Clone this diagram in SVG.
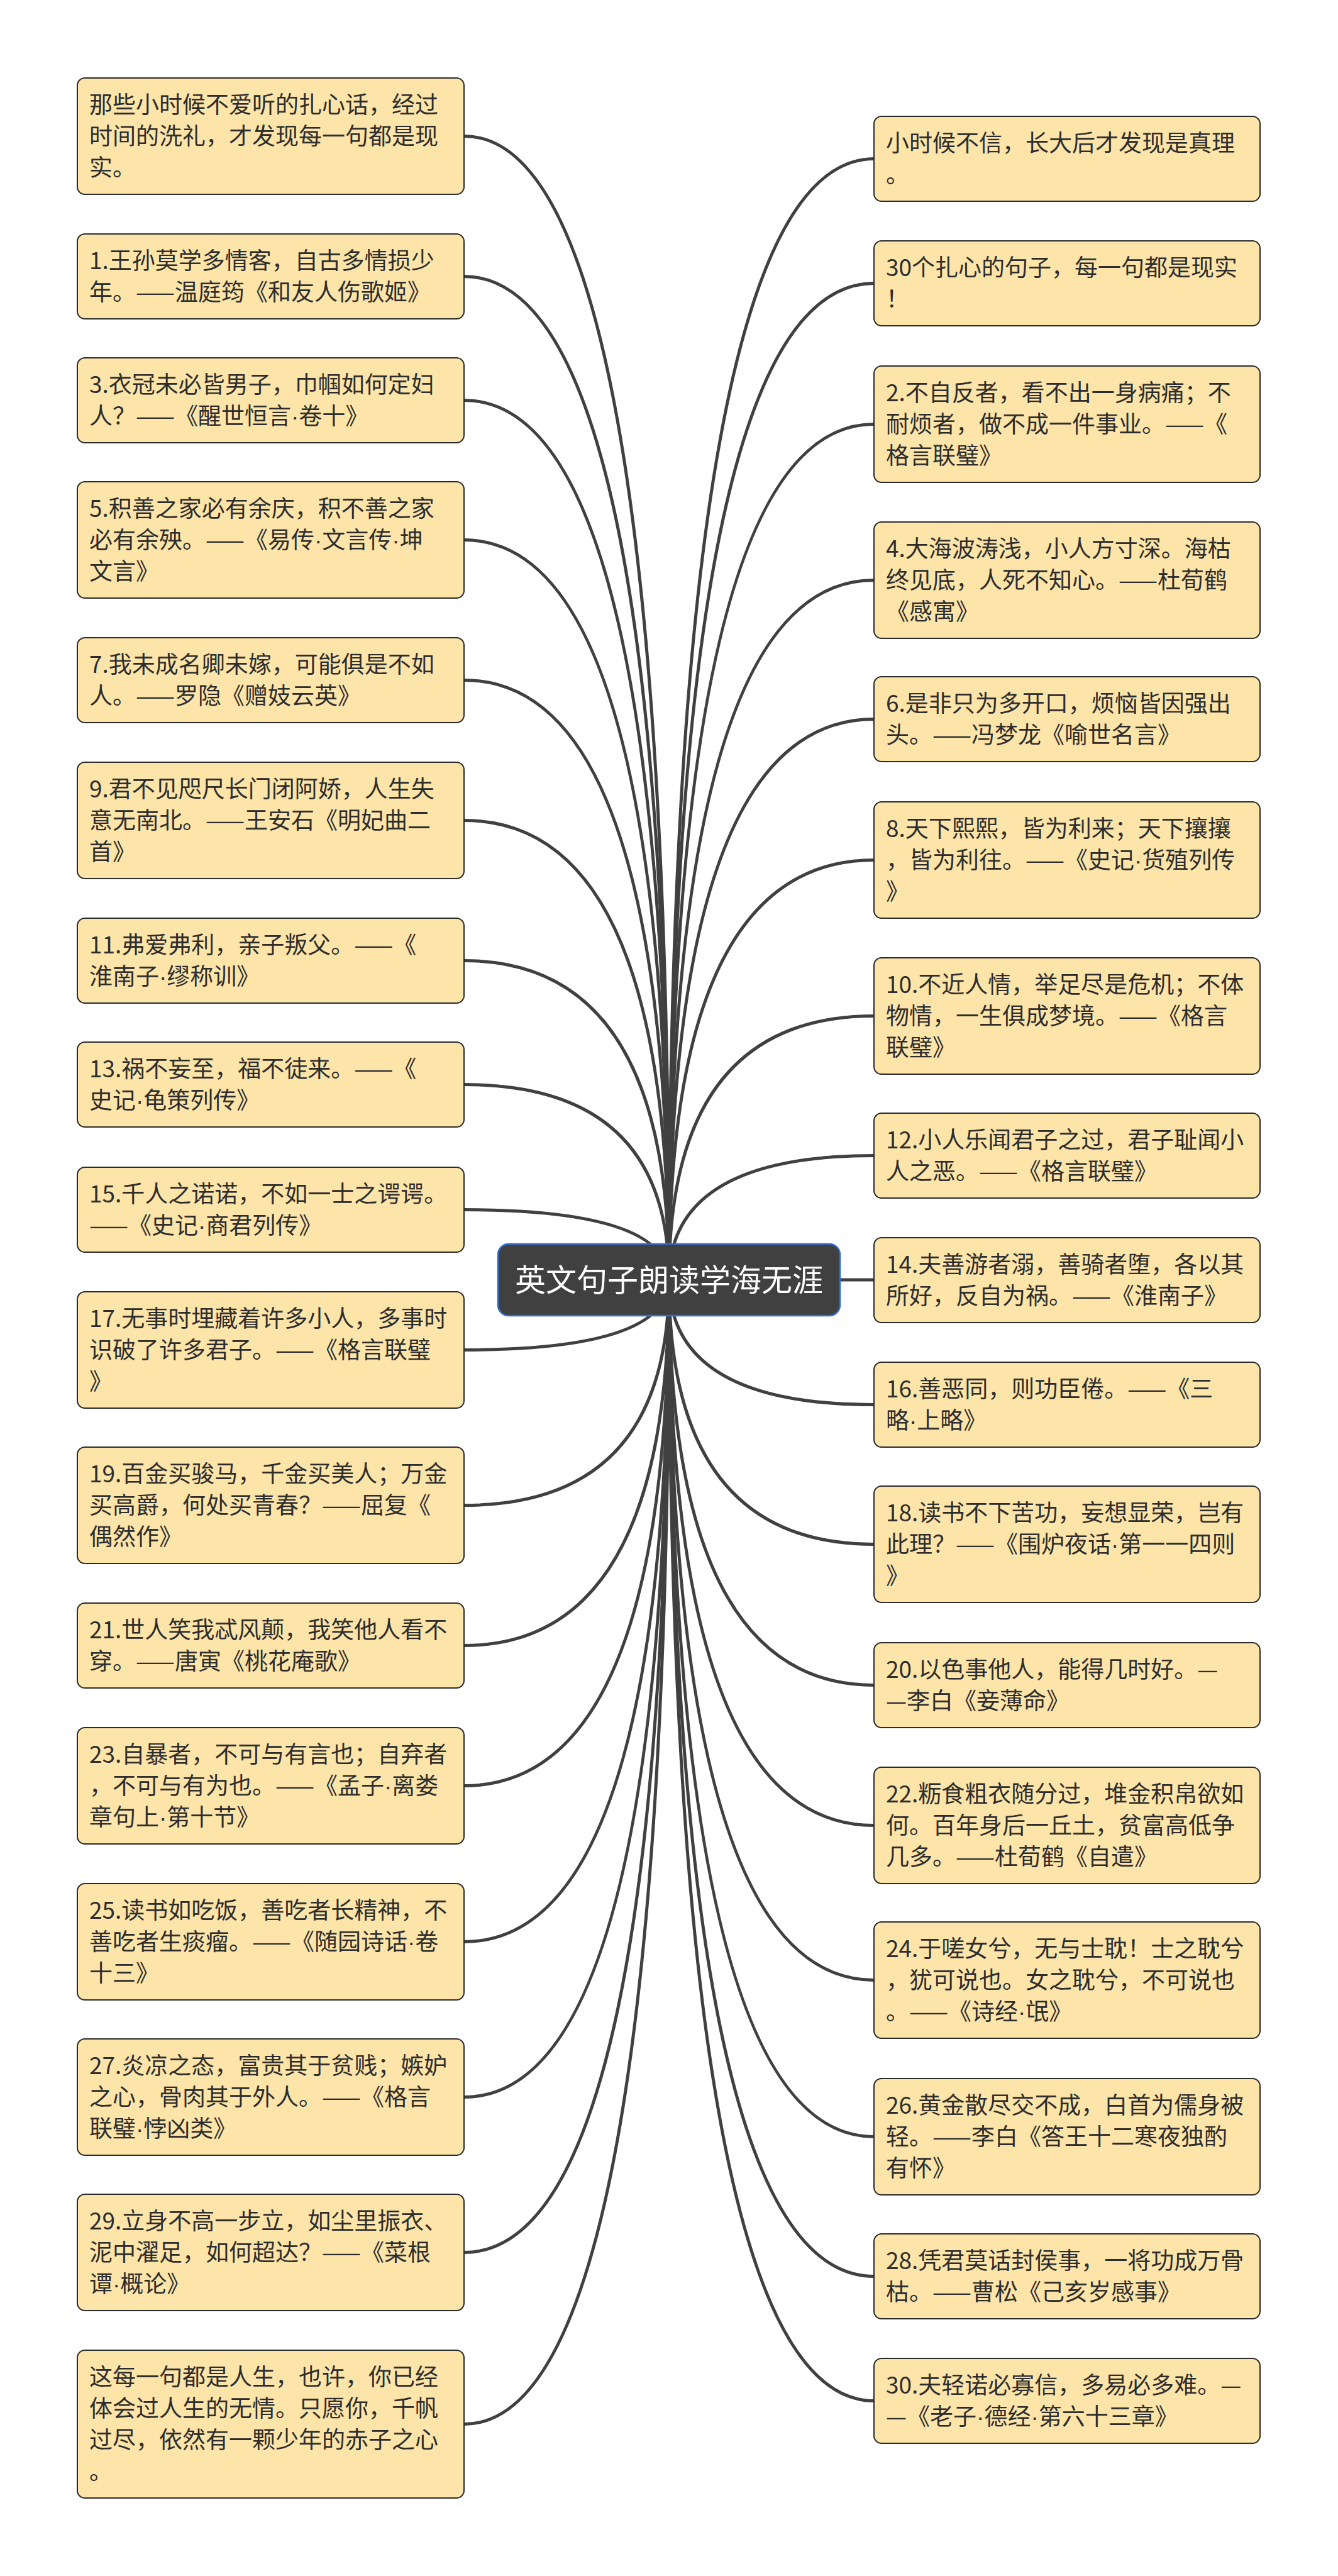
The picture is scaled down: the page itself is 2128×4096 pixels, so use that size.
<svg xmlns="http://www.w3.org/2000/svg" width="2128" height="4096" viewBox="0 0 2128 4096">
<style>
.box{fill:#FDE4A9;stroke:#2b2b2b;stroke-width:2}
.t{font-family:"Noto Sans CJK SC","Noto Sans",sans-serif;font-size:37px;fill:#2d2d2d}
.d{font-family:"Liberation Sans",sans-serif}
.ln{fill:none;stroke:#404040;stroke-width:5;stroke-linecap:round}
.root{fill:#404040;stroke:#2f6fd3;stroke-width:2.5}
.rt{font-family:"Noto Sans CJK SC","Noto Sans",sans-serif;font-size:49px;fill:#ffffff;text-anchor:middle}
</style>
<rect width="2128" height="4096" fill="#ffffff"/>
<g id="connectors">
<path class="ln" d="M1064 2035 Q1064 216.5 738 216.5"/>
<path class="ln" d="M1064 2035 Q1064 439.5 738 439.5"/>
<path class="ln" d="M1064 2035 Q1064 636.5 738 636.5"/>
<path class="ln" d="M1064 2035 Q1064 858.5 738 858.5"/>
<path class="ln" d="M1064 2035 Q1064 1081.5 738 1081.5"/>
<path class="ln" d="M1064 2035 Q1064 1304.5 738 1304.5"/>
<path class="ln" d="M1064 2035 Q1064 1527.5 738 1527.5"/>
<path class="ln" d="M1064 2035 Q1064 1724.5 738 1724.5"/>
<path class="ln" d="M1064 2035 Q1064 1923.5 738 1923.5"/>
<path class="ln" d="M1064 2035 Q1064 2146.5 738 2146.5"/>
<path class="ln" d="M1064 2035 Q1064 2393.5 738 2393.5"/>
<path class="ln" d="M1064 2035 Q1064 2616.5 738 2616.5"/>
<path class="ln" d="M1064 2035 Q1064 2839.5 738 2839.5"/>
<path class="ln" d="M1064 2035 Q1064 3087.5 738 3087.5"/>
<path class="ln" d="M1064 2035 Q1064 3334.5 738 3334.5"/>
<path class="ln" d="M1064 2035 Q1064 3581.5 738 3581.5"/>
<path class="ln" d="M1064 2035 Q1064 3854.5 738 3854.5"/>
<path class="ln" d="M1064 2035 Q1064 252.5 1390 252.5"/>
<path class="ln" d="M1064 2035 Q1064 450.5 1390 450.5"/>
<path class="ln" d="M1064 2035 Q1064 674.5 1390 674.5"/>
<path class="ln" d="M1064 2035 Q1064 922.5 1390 922.5"/>
<path class="ln" d="M1064 2035 Q1064 1143.5 1390 1143.5"/>
<path class="ln" d="M1064 2035 Q1064 1367.5 1390 1367.5"/>
<path class="ln" d="M1064 2035 Q1064 1615.5 1390 1615.5"/>
<path class="ln" d="M1064 2035 Q1064 1837.5 1390 1837.5"/>
<path class="ln" d="M1064 2035 L1390 2035"/>
<path class="ln" d="M1064 2035 Q1064 2233.5 1390 2233.5"/>
<path class="ln" d="M1064 2035 Q1064 2455.5 1390 2455.5"/>
<path class="ln" d="M1064 2035 Q1064 2679.5 1390 2679.5"/>
<path class="ln" d="M1064 2035 Q1064 2902.5 1390 2902.5"/>
<path class="ln" d="M1064 2035 Q1064 3148.5 1390 3148.5"/>
<path class="ln" d="M1064 2035 Q1064 3397.5 1390 3397.5"/>
<path class="ln" d="M1064 2035 Q1064 3619.5 1390 3619.5"/>
<path class="ln" d="M1064 2035 Q1064 3817.5 1390 3817.5"/>
</g>
<g id="L0"><rect class="box" x="123" y="124" width="615" height="185" rx="12"/><text class="t"><tspan x="142" y="180">那些小时候不爱听的扎心话，经过</tspan><tspan x="142" y="230">时间的洗礼，才发现每一句都是现</tspan><tspan x="142" y="280">实。</tspan></text></g>
<g id="L1"><rect class="box" x="123" y="372" width="615" height="135" rx="12"/><text class="t"><tspan x="142" y="428">1.王孙莫学多情客，自古多情损少</tspan><tspan x="142" y="478">年。——温庭筠《和友人伤歌姬》</tspan></text></g>
<g id="L3"><rect class="box" x="123" y="569" width="615" height="135" rx="12"/><text class="t"><tspan x="142" y="625">3.衣冠未必皆男子，巾帼如何定妇</tspan><tspan x="142" y="675">人？——《醒世恒言<tspan class="d">·</tspan>卷十》</tspan></text></g>
<g id="L5"><rect class="box" x="123" y="766" width="615" height="185" rx="12"/><text class="t"><tspan x="142" y="822">5.积善之家必有余庆，积不善之家</tspan><tspan x="142" y="872">必有余殃。——《易传<tspan class="d">·</tspan>文言传<tspan class="d">·</tspan>坤</tspan><tspan x="142" y="922">文言》</tspan></text></g>
<g id="L7"><rect class="box" x="123" y="1014" width="615" height="135" rx="12"/><text class="t"><tspan x="142" y="1070">7.我未成名卿未嫁，可能俱是不如</tspan><tspan x="142" y="1120">人。——罗隐《赠妓云英》</tspan></text></g>
<g id="L9"><rect class="box" x="123" y="1212" width="615" height="185" rx="12"/><text class="t"><tspan x="142" y="1268">9.君不见咫尺长门闭阿娇，人生失</tspan><tspan x="142" y="1318">意无南北。——王安石《明妃曲二</tspan><tspan x="142" y="1368">首》</tspan></text></g>
<g id="L11"><rect class="box" x="123" y="1460" width="615" height="135" rx="12"/><text class="t"><tspan x="142" y="1516">11.弗爱弗利，亲子叛父。——《</tspan><tspan x="142" y="1566">淮南子<tspan class="d">·</tspan>缪称训》</tspan></text></g>
<g id="L13"><rect class="box" x="123" y="1657" width="615" height="135" rx="12"/><text class="t"><tspan x="142" y="1713">13.祸不妄至，福不徒来。——《</tspan><tspan x="142" y="1763">史记<tspan class="d">·</tspan>龟策列传》</tspan></text></g>
<g id="L15"><rect class="box" x="123" y="1856" width="615" height="135" rx="12"/><text class="t"><tspan x="142" y="1912">15.千人之诺诺，不如一士之谔谔。</tspan><tspan x="142" y="1962">——《史记<tspan class="d">·</tspan>商君列传》</tspan></text></g>
<g id="L17"><rect class="box" x="123" y="2054" width="615" height="185" rx="12"/><text class="t"><tspan x="142" y="2110">17.无事时埋藏着许多小人，多事时</tspan><tspan x="142" y="2160">识破了许多君子。——《格言联璧</tspan><tspan x="142" y="2210">》</tspan></text></g>
<g id="L19"><rect class="box" x="123" y="2301" width="615" height="185" rx="12"/><text class="t"><tspan x="142" y="2357">19.百金买骏马，千金买美人；万金</tspan><tspan x="142" y="2407">买高爵，何处买青春？——屈复《</tspan><tspan x="142" y="2457">偶然作》</tspan></text></g>
<g id="L21"><rect class="box" x="123" y="2549" width="615" height="135" rx="12"/><text class="t"><tspan x="142" y="2605">21.世人笑我忒风颠，我笑他人看不</tspan><tspan x="142" y="2655">穿。——唐寅《桃花庵歌》</tspan></text></g>
<g id="L23"><rect class="box" x="123" y="2747" width="615" height="185" rx="12"/><text class="t"><tspan x="142" y="2803">23.自暴者，不可与有言也；自弃者</tspan><tspan x="142" y="2853">，不可与有为也。——《孟子<tspan class="d">·</tspan>离娄</tspan><tspan x="142" y="2903">章句上<tspan class="d">·</tspan>第十节》</tspan></text></g>
<g id="L25"><rect class="box" x="123" y="2995" width="615" height="185" rx="12"/><text class="t"><tspan x="142" y="3051">25.读书如吃饭，善吃者长精神，不</tspan><tspan x="142" y="3101">善吃者生痰瘤。——《随园诗话<tspan class="d">·</tspan>卷</tspan><tspan x="142" y="3151">十三》</tspan></text></g>
<g id="L27"><rect class="box" x="123" y="3242" width="615" height="185" rx="12"/><text class="t"><tspan x="142" y="3298">27.炎凉之态，富贵其于贫贱；嫉妒</tspan><tspan x="142" y="3348">之心，骨肉其于外人。——《格言</tspan><tspan x="142" y="3398">联璧<tspan class="d">·</tspan>悖凶类》</tspan></text></g>
<g id="L29"><rect class="box" x="123" y="3489" width="615" height="185" rx="12"/><text class="t"><tspan x="142" y="3545">29.立身不高一步立，如尘里振衣、</tspan><tspan x="142" y="3595">泥中濯足，如何超达？——《菜根</tspan><tspan x="142" y="3645">谭<tspan class="d">·</tspan>概论》</tspan></text></g>
<g id="L31"><rect class="box" x="123" y="3737" width="615" height="235" rx="12"/><text class="t"><tspan x="142" y="3793">这每一句都是人生，也许，你已经</tspan><tspan x="142" y="3843">体会过人生的无情。只愿你，千帆</tspan><tspan x="142" y="3893">过尽，依然有一颗少年的赤子之心</tspan><tspan x="142" y="3943">。</tspan></text></g>
<g id="R0"><rect class="box" x="1390" y="185" width="614" height="135" rx="12"/><text class="t"><tspan x="1409" y="241">小时候不信，长大后才发现是真理</tspan><tspan x="1409" y="291">。</tspan></text></g>
<g id="R1"><rect class="box" x="1390" y="383" width="614" height="135" rx="12"/><text class="t"><tspan x="1409" y="439">30个扎心的句子，每一句都是现实</tspan><tspan x="1409" y="489">！</tspan></text></g>
<g id="R2"><rect class="box" x="1390" y="582" width="614" height="185" rx="12"/><text class="t"><tspan x="1409" y="638">2.不自反者，看不出一身病痛；不</tspan><tspan x="1409" y="688">耐烦者，做不成一件事业。——《</tspan><tspan x="1409" y="738">格言联璧》</tspan></text></g>
<g id="R3"><rect class="box" x="1390" y="830" width="614" height="185" rx="12"/><text class="t"><tspan x="1409" y="886">4.大海波涛浅，小人方寸深。海枯</tspan><tspan x="1409" y="936">终见底，人死不知心。——杜荀鹤</tspan><tspan x="1409" y="986">《感寓》</tspan></text></g>
<g id="R4"><rect class="box" x="1390" y="1076" width="614" height="135" rx="12"/><text class="t"><tspan x="1409" y="1132">6.是非只为多开口，烦恼皆因强出</tspan><tspan x="1409" y="1182">头。——冯梦龙《喻世名言》</tspan></text></g>
<g id="R5"><rect class="box" x="1390" y="1275" width="614" height="185" rx="12"/><text class="t"><tspan x="1409" y="1331">8.天下熙熙，皆为利来；天下攘攘</tspan><tspan x="1409" y="1381">，皆为利往。——《史记<tspan class="d">·</tspan>货殖列传</tspan><tspan x="1409" y="1431">》</tspan></text></g>
<g id="R6"><rect class="box" x="1390" y="1523" width="614" height="185" rx="12"/><text class="t"><tspan x="1409" y="1579">10.不近人情，举足尽是危机；不体</tspan><tspan x="1409" y="1629">物情，一生俱成梦境。——《格言</tspan><tspan x="1409" y="1679">联璧》</tspan></text></g>
<g id="R7"><rect class="box" x="1390" y="1770" width="614" height="135" rx="12"/><text class="t"><tspan x="1409" y="1826">12.小人乐闻君子之过，君子耻闻小</tspan><tspan x="1409" y="1876">人之恶。——《格言联璧》</tspan></text></g>
<g id="R8"><rect class="box" x="1390" y="1968" width="614" height="135" rx="12"/><text class="t"><tspan x="1409" y="2024">14.夫善游者溺，善骑者堕，各以其</tspan><tspan x="1409" y="2074">所好，反自为祸。——《淮南子》</tspan></text></g>
<g id="R9"><rect class="box" x="1390" y="2166" width="614" height="135" rx="12"/><text class="t"><tspan x="1409" y="2222">16.善恶同，则功臣倦。——《三</tspan><tspan x="1409" y="2272">略<tspan class="d">·</tspan>上略》</tspan></text></g>
<g id="R10"><rect class="box" x="1390" y="2363" width="614" height="185" rx="12"/><text class="t"><tspan x="1409" y="2419">18.读书不下苦功，妄想显荣，岂有</tspan><tspan x="1409" y="2469">此理？——《围炉夜话<tspan class="d">·</tspan>第一一四则</tspan><tspan x="1409" y="2519">》</tspan></text></g>
<g id="R11"><rect class="box" x="1390" y="2612" width="614" height="135" rx="12"/><text class="t"><tspan x="1409" y="2668">20.以色事他人，能得几时好。—</tspan><tspan x="1409" y="2718">—李白《妾薄命》</tspan></text></g>
<g id="R12"><rect class="box" x="1390" y="2810" width="614" height="185" rx="12"/><text class="t"><tspan x="1409" y="2866">22.粝食粗衣随分过，堆金积帛欲如</tspan><tspan x="1409" y="2916">何。百年身后一丘土，贫富高低争</tspan><tspan x="1409" y="2966">几多。——杜荀鹤《自遣》</tspan></text></g>
<g id="R13"><rect class="box" x="1390" y="3056" width="614" height="185" rx="12"/><text class="t"><tspan x="1409" y="3112">24.于嗟女兮，无与士耽！士之耽兮</tspan><tspan x="1409" y="3162">，犹可说也。女之耽兮，不可说也</tspan><tspan x="1409" y="3212">。——《诗经<tspan class="d">·</tspan>氓》</tspan></text></g>
<g id="R14"><rect class="box" x="1390" y="3305" width="614" height="185" rx="12"/><text class="t"><tspan x="1409" y="3361">26.黄金散尽交不成，白首为儒身被</tspan><tspan x="1409" y="3411">轻。——李白《答王十二寒夜独酌</tspan><tspan x="1409" y="3461">有怀》</tspan></text></g>
<g id="R15"><rect class="box" x="1390" y="3552" width="614" height="135" rx="12"/><text class="t"><tspan x="1409" y="3608">28.凭君莫话封侯事，一将功成万骨</tspan><tspan x="1409" y="3658">枯。——曹松《己亥岁感事》</tspan></text></g>
<g id="R16"><rect class="box" x="1390" y="3750" width="614" height="135" rx="12"/><text class="t"><tspan x="1409" y="3806">30.夫轻诺必寡信，多易必多难。—</tspan><tspan x="1409" y="3856">—《老子<tspan class="d">·</tspan>德经<tspan class="d">·</tspan>第六十三章》</tspan></text></g>
<g id="root"><rect class="root" x="792" y="1978" width="544" height="114" rx="17"/><text class="rt" x="1064" y="2053">英文句子朗读学海无涯</text></g>
</svg>
